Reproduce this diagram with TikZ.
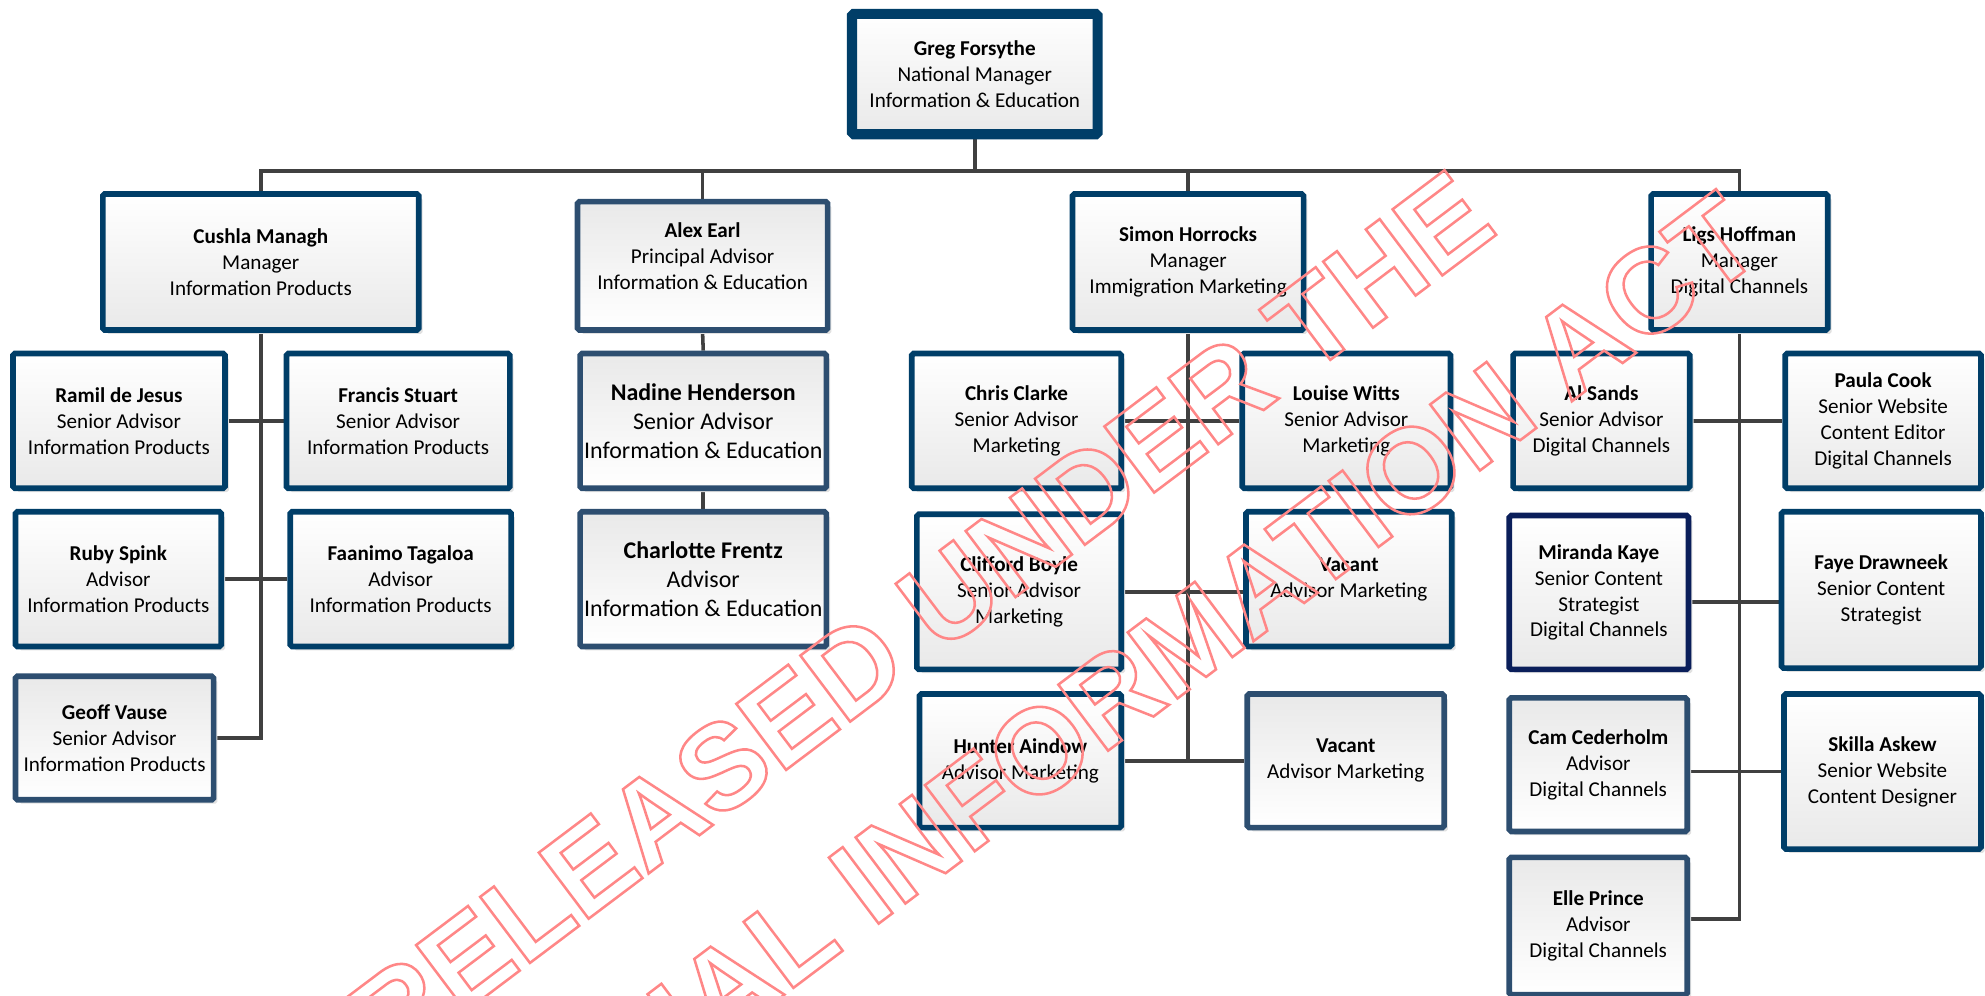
\documentclass[tikz,border=0pt]{standalone}
\usepackage{fontspec}
\setmainfont{Carlito}
\newfontfamily\wmfont{Liberation Sans}
\usetikzlibrary{shadows}
\definecolor{boxblue}{RGB}{0,62,104}
\definecolor{steelblue}{RGB}{45,78,112}
\definecolor{navyblue}{RGB}{10,30,90}
\definecolor{linegray}{RGB}{64,64,64}
\definecolor{boxgray}{RGB}{233,233,233}
\definecolor{shadowgray}{RGB}{225,225,225}
\definecolor{wmred}{RGB}{255,135,135}
\pgfdeclarelayer{bg}
\pgfsetlayers{bg,main}
\tikzset{
  box/.style={draw=boxblue, rounded corners=1.5pt, inner sep=0pt, align=center,
    top color=white, bottom color=boxgray,
    font=\fontsize{16.7}{20.5}\selectfont,
    drop shadow={shadow xshift=3pt, shadow yshift=-3pt, fill=shadowgray, opacity=1}},
  boxb/.style={box, draw=steelblue, top color=boxgray, bottom color=white},
  boxn/.style={box, draw=navyblue},
  boxbig/.style={boxb, font=\fontsize{18.9}{23}\selectfont},
  conn/.style={draw=linegray, line width=2.8pt},
  wm/.style={inner sep=0pt, text=wmred, anchor=base west, rotate=37,
    font=\wmfont\bfseries\fontsize{95}{95}\selectfont,
    execute at begin node={\special{pdf:literal direct 1 Tr 2 w}},
    execute at end node={\special{pdf:literal direct 0 Tr}}}
}
% [line width]{style}{name}{x1}{x2}{y1}{y2}{text}
\newcommand\orgbox[8][4.5]{%
  \node[#2, line width=#1pt, minimum width={(#5)-(#4)-#1}, minimum height={(#7)-(#6)-#1}]
    (#3) at ({((#4)+(#5))/2},{((#6)+(#7))/2}) {#8};}
\begin{document}
\begin{tikzpicture}[x=1pt,y=-1pt]
\useasboundingbox (0,0) rectangle (1568,786);
\begin{scope}
\clip (0,0) rectangle (1568,786);
% top
\orgbox[8]{box}{greg}{669}{871}{7}{110}{\textbf{Greg Forsythe}\\National Manager\\Information \& Education}
% managers
\orgbox{box}{cushla}{79}{333}{151}{263}{\textbf{Cushla Managh}\\Manager\\Information Products}
\orgbox{boxb}{alex}{454}{656}{157}{263}{\textbf{Alex Earl}\\Principal Advisor\\Information \& Education\\[-4.5pt]\mbox{}}
\orgbox{box}{simon}{845}{1032}{151}{263}{\textbf{Simon Horrocks}\\Manager\\Immigration Marketing}
\orgbox{box}{ligs}{1302}{1446}{151}{263}{\textbf{Ligs Hoffman}\\Manager\\Digital Channels}
% information products
\orgbox{box}{ramil}{8}{180}{277}{388}{\textbf{Ramil de Jesus}\\Senior Advisor\\Information Products}
\orgbox{box}{francis}{224}{405}{277}{388}{\textbf{Francis Stuart}\\Senior Advisor\\Information Products}
\orgbox{box}{ruby}{10}{177}{402}{513}{\textbf{Ruby Spink}\\Advisor\\Information Products}
\orgbox{box}{faanimo}{227}{406}{402}{513}{\textbf{Faanimo Tagaloa}\\Advisor\\Information Products}
\orgbox{boxb}{geoff}{10}{171}{532}{634}{\textbf{Geoff Vause}\\Senior Advisor\\Information Products}
% education
\orgbox{boxbig}{nadine}{456}{655}{277}{388}{\textbf{Nadine Henderson}\\Senior Advisor\\Information \& Education}
\orgbox{boxbig}{charlotte}{456}{655}{402}{513}{\textbf{Charlotte Frentz}\\Advisor\\Information \& Education}
% marketing
\orgbox{box}{chris}{718}{888}{277}{388}{\textbf{Chris Clarke}\\Senior Advisor\\Marketing}
\orgbox{box}{louise}{979}{1148}{277}{388}{\textbf{Louise Witts}\\Senior Advisor\\Marketing}
\orgbox{box}{clifford}{722}{888}{404}{531}{\textbf{Clifford Boyle}\\Senior Advisor\\Marketing}
\orgbox{box}{vacantone}{982}{1149}{402}{513}{\textbf{Vacant}\\Advisor Marketing}
\orgbox{box}{hunter}{724}{888}{546}{656}{\textbf{Hunter Aindow}\\Advisor Marketing}
\orgbox{boxb}{vacanttwo}{983}{1143}{546}{656}{\textbf{Vacant}\\Advisor Marketing}
% digital
\orgbox{box}{alsands}{1193}{1337}{277}{388}{\textbf{Al Sands}\\Senior Advisor\\Digital Channels}
\orgbox{box}{paula}{1408}{1567}{277}{388}{\textbf{Paula Cook}\\Senior Website\\Content Editor\\Digital Channels}
\orgbox{boxn}{miranda}{1190}{1336}{405}{531}{\textbf{Miranda Kaye}\\Senior Content\\Strategist\\Digital Channels}
\orgbox{box}{faye}{1405}{1567}{402}{530}{\textbf{Faye Drawneek}\\Senior Content\\Strategist}
\orgbox{boxb}{cam}{1190}{1335}{549}{659}{\textbf{Cam Cederholm}\\Advisor\\Digital Channels}
\orgbox{box}{skilla}{1407}{1567}{546}{673}{\textbf{Skilla Askew}\\Senior Website\\Content Designer}
\orgbox{boxb}{elle}{1190}{1335}{675}{788}{\textbf{Elle Prince}\\Advisor\\Digital Channels}
% connectors
\begin{pgfonlayer}{bg}
\coordinate (bus) at (770,135);
\draw[conn] (greg.south) -- (greg.south |- bus);
\draw[conn] (cushla.north) |- (bus) -| (ligs.north);
\draw[conn] (alex.north) -- (alex.north |- bus);
\draw[conn] (simon.north) -- (simon.north |- bus);
\draw[conn] (cushla.south) |- (geoff.east);
\draw[conn] (ramil.east) -- (francis.west);
\draw[conn] (ruby.east) -- (faanimo.west);
\draw[conn] (alex.south) -- (nadine.north);
\draw[conn] (nadine.south) -- (charlotte.north);
\draw[conn] (simon.south) |- (hunter.east);
\draw[conn] (chris.east) -- (louise.west);
\draw[conn] (clifford.east) -- (clifford.east -| vacantone.west);
\draw[conn] (hunter.east) -- (vacanttwo.west);
\draw[conn] (ligs.south) |- ([yshift=5.5pt]elle.east);
\draw[conn] (alsands.east) -- (paula.west);
\draw[conn] ([yshift=-7.5pt]miranda.east) -- ([yshift=-7.5pt]miranda.east -| faye.west);
\draw[conn] (cam.east |- skilla.west) -- (skilla.west);
\end{pgfonlayer}
% watermark
\node[wm] (wmone) at (308,844) {RELEASED UNDER THE};
\node[wm] (wmtwo) at (318,1013) {OFFICIAL INFORMATION ACT};
\end{scope}
\end{tikzpicture}
\end{document}
